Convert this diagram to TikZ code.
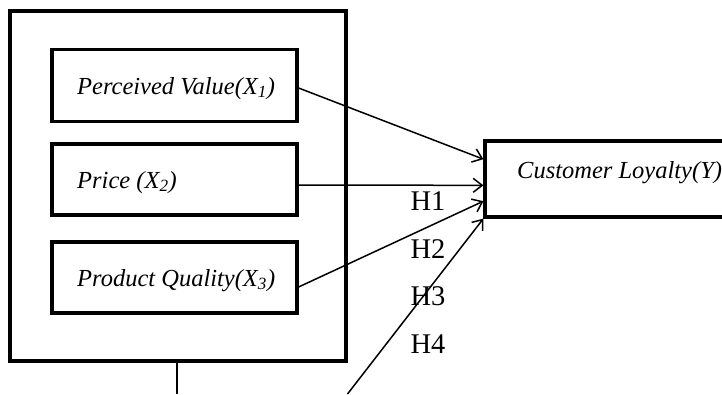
\documentclass[tikz,border=0pt]{standalone}
\usepackage{fontspec}
\setmainfont{Liberation Serif}
\usetikzlibrary{arrows.meta,calc}
\begin{document}
\begin{tikzpicture}[x=1pt,y=-1pt,
  frame/.style={draw,line width=3.2pt,inner sep=0pt,minimum width=#1},
  lbl/.style={anchor=base west,inner sep=0pt,font=\fontsize{24.5}{28}\selectfont\itshape},
  hyp/.style={anchor=base,inner sep=0pt,font=\fontsize{28.5}{32}\selectfont},
  arr/.style={-{Straight Barb[length=9pt,width=14pt]},line width=1.5pt}]
\fill[white] (0,0) rectangle (722,394);
\useasboundingbox (0,0) rectangle (722,394);
% boxes
\node[frame=336pt,minimum height=350pt] (outer) at (178,186) {};
\node[frame=245pt,minimum height=72pt] (b1) at (174.5,85.5) {};
\node[frame=245pt,minimum height=71pt] (b2) at (174.5,179.5) {};
\node[frame=245pt,minimum height=71pt] (b3) at (174.5,277.5) {};
\node[frame=275pt,minimum height=76pt] (cl) at (622.5,179) {};
% texts
\node[lbl] (t1) at (77,94) {Perceived Value(X\textsubscript{1})};
\node[lbl] (t2) at (77,188) {Price (X\textsubscript{2})};
\node[lbl] (t3) at (77,286) {Product Quality(X\textsubscript{3})};
\node[lbl] (ty) at (517,178) {Customer Loyalty(Y)};
\node[hyp] (h1) at (428,210) {H1};
\node[hyp] (h2) at (428,258) {H2};
\node[hyp] (h3) at (428,305) {H3};
\node[hyp] (h4) at (428,353) {H4};
% connectors
\coordinate (foot) at (347.5,394);
\coordinate (stem) at (177,394);
\draw[arr] ([yshift=-2.5pt]b1.east) -- ($(cl.north west)!0.25!(cl.south west)$);
\draw[arr] ([yshift=-5.5pt]b2.east) -- ($(cl.north west)!0.58!(cl.south west)$);
\draw[arr] ([yshift=-9.5pt]b3.east) -- ($(cl.north west)!0.78!(cl.south west)$);
\draw[arr] (foot) -- (cl.south west);
\draw[line width=1.2pt] (outer.south -| stem) -- (stem);
\end{tikzpicture}
\end{document}
